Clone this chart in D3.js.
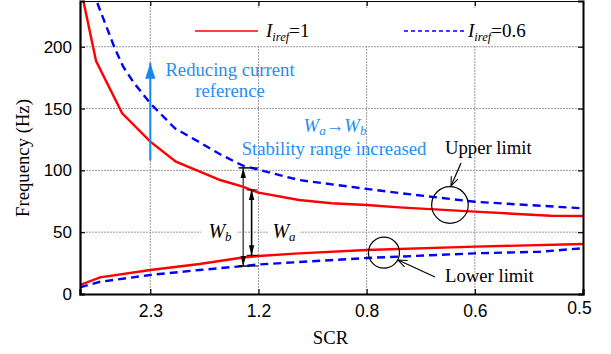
<!DOCTYPE html>
<html>
<head>
<meta charset="utf-8">
<script src="https://cdn.jsdelivr.net/npm/d3@7"></script>
<style>
  html, body { margin: 0; padding: 0; background: #fff; }
  svg { display: block; }
</style>
</head>
<body>
<svg id="chart" width="611" height="354"></svg>
<script>
// Short-circuit ratio axis (tick labels) and frequency axis
const xTicks = [2.3, 1.2, 0.8, 0.6, 0.5];
const xStart = 3.0;            // SCR at the left edge of the plot
const yTicks = [0, 50, 100, 150, 200];
const yMax = 237;

// Upper and lower stability limits (Hz) versus SCR
const redUpperScr = [3.0, 2.84, 2.58, 2.3, 2.04, 1.71, 1.59, 1.36, 1.27, 1.2, 1.05, 0.93, 0.8, 0.74, 0.6, 0.53, 0.5];
const redUpperHz  = [250, 188.4, 146.1, 123.2, 107, 96.2, 92.2, 86.8, 84.1, 82, 76, 73.4, 72, 70.1, 66.6, 63.3, 63.1];

const blueUpperScr = [3.0, 2.84, 2.66, 2.57, 2.46, 2.3, 2.05, 1.79, 1.59, 1.36, 1.2, 1.05, 0.8, 0.74, 0.6, 0.5];
const blueUpperHz  = [275, 238, 200, 183.8, 170.4, 154.2, 134, 122.3, 113, 103.8, 100.6, 92.2, 85, 81.7, 74.6, 69.3];

const redLowerScr = [3.0, 2.8, 2.3, 1.8, 1.36, 1.2, 1.05, 0.8, 0.6, 0.5];
const redLowerHz  = [7.3, 13.5, 19.4, 24.3, 29.5, 30.7, 32.9, 35.6, 38.3, 40.4];

const blueLowerScr = [3.0, 2.8, 2.3, 1.8, 1.36, 1.2, 0.8, 0.6, 0.54, 0.5];
const blueLowerHz  = [5.4, 9.9, 15.4, 19.4, 22.6, 23.9, 29.1, 32.9, 34.2, 37.0];

const seriesNames = ["1", "0.6"];

const svg = d3.select("#chart");
const plot = { left: 80, right: 583, top: 1, bottom: 294 };

// ticks are evenly spaced; the left edge sits 0.65 of a step before the first tick
const step = (plot.right - plot.left) / (xTicks.length - 1 + 0.65);
const xRange = [plot.left].concat(xTicks.map((d, i) => plot.left + (0.65 + i) * step));
const x = d3.scaleLinear().domain([xStart].concat(xTicks)).range(xRange);
const y = d3.scaleLinear().domain([0, yMax]).range([plot.bottom, plot.top]);

const serif = "'Liberation Serif', 'Times New Roman', serif";
const sans = "'Liberation Sans', Arial, sans-serif";
const blueText = "#1f8ef5";
const fs = 18.7;

// clip region for the curves
const defs = svg.append("defs");
defs.append("clipPath").attr("id", "clip")
  .append("rect").attr("x", plot.left).attr("y", plot.top)
  .attr("width", plot.right - plot.left).attr("height", plot.bottom - plot.top);

defs.append("marker").attr("id", "headBlack")
  .attr("viewBox", "0 0 10 10").attr("refX", 10).attr("refY", 5)
  .attr("markerWidth", 10).attr("markerHeight", 10).attr("markerUnits", "userSpaceOnUse")
  .attr("orient", "auto-start-reverse")
  .append("path").attr("d", "M0,2.3 L10,5 L0,7.7 Z").attr("fill", "#000");
defs.append("marker").attr("id", "headBlue")
  .attr("viewBox", "0 0 10 10").attr("refX", 10).attr("refY", 5)
  .attr("markerWidth", 16).attr("markerHeight", 16).attr("markerUnits", "userSpaceOnUse")
  .attr("orient", "auto")
  .append("path").attr("d", "M0,1.8 L10,5 L0,8.2 Z").attr("fill", "#1a86f0");
defs.append("marker").attr("id", "headOpen")
  .attr("viewBox", "0 0 10 10").attr("refX", 10).attr("refY", 5)
  .attr("markerWidth", 9).attr("markerHeight", 9).attr("markerUnits", "userSpaceOnUse")
  .attr("orient", "auto")
  .append("path").attr("d", "M0,1 L10,5 L0,9").attr("fill", "none").attr("stroke", "#000").attr("stroke-width", 1.2);

// grid
const grid = svg.append("g").attr("stroke", "#9a9a9a").attr("stroke-width", 1).attr("stroke-dasharray", "2,1");
grid.selectAll(".gx").data(xTicks.slice(0, -1)).join("line")
  .attr("x1", d => x(d)).attr("x2", d => x(d))
  .attr("y1", plot.top).attr("y2", plot.bottom);
grid.selectAll(".gy").data(yTicks.slice(1)).join("line")
  .attr("x1", plot.left).attr("x2", plot.right)
  .attr("y1", d => y(d)).attr("y2", d => y(d));

// legend backdrop
svg.append("rect").attr("x", 165).attr("y", 8).attr("width", 410).attr("height", 37).attr("fill", "#fff");

// label backdrops for W_b and W_a
svg.append("rect").attr("x", 201).attr("y", 222).attr("width", 36).attr("height", 20).attr("fill", "#fff");
svg.append("rect").attr("x", 268).attr("y", 222).attr("width", 32).attr("height", 20).attr("fill", "#fff");

// curves
const line = d3.line().x(d => x(d[0])).y(d => y(d[1]));
const curves = svg.append("g").attr("clip-path", "url(#clip)").attr("fill", "none").attr("stroke-width", 2.4);
function zip(a, b) { return a.map((v, i) => [v, b[i]]); }
curves.append("path").datum(zip(redUpperScr, redUpperHz)).attr("d", line).attr("stroke", "#ff0000");
curves.append("path").datum(zip(redLowerScr, redLowerHz)).attr("d", line).attr("stroke", "#ff0000");
curves.append("path").datum(zip(blueUpperScr, blueUpperHz)).attr("d", line).attr("stroke", "#0000ff").attr("stroke-dasharray", "8,5");
curves.append("path").datum(zip(blueLowerScr, blueLowerHz)).attr("d", line).attr("stroke", "#0000ff").attr("stroke-dasharray", "8,5");

// axes
const axisLeft = d3.axisLeft(y).tickValues(yTicks).tickSize(-5).tickPadding(8);
const axisBottom = d3.axisBottom(x).tickValues(xTicks).tickSize(-5).tickPadding(11).tickFormat(d3.format(".1f"));
const axisTop = d3.axisTop(x).tickValues(xTicks).tickSize(-5).tickFormat("");
const axisRight = d3.axisRight(y).tickValues(yTicks).tickSize(-5).tickFormat("");

function styleAxis(g, w, size) {
  g.select(".domain").attr("stroke", "#000").attr("stroke-width", w);
  g.selectAll(".tick line").attr("stroke", "#000").attr("stroke-width", 1.2);
  g.selectAll("text").attr("font-family", sans).attr("font-size", size).attr("fill", "#000");
}
svg.append("g").attr("transform", `translate(0,${plot.top})`).call(axisTop).call(g => styleAxis(g, 1, 17));
svg.append("g").attr("transform", `translate(${plot.right},0)`).call(axisRight).call(g => styleAxis(g, 2, 17));
svg.append("g").attr("transform", `translate(${plot.left},0)`).call(axisLeft).call(g => styleAxis(g, 2.2, 17));
const gx = svg.append("g").attr("transform", `translate(0,${plot.bottom})`).call(axisBottom).call(g => styleAxis(g, 2.2, 17.5));
gx.selectAll(".tick").filter(d => d === xTicks[xTicks.length - 1]).select("text").attr("dx", -4).attr("y", 8);

// axis titles
svg.append("text").attr("x", (plot.left + plot.right) / 2 - 1).attr("y", 344)
  .attr("text-anchor", "middle").attr("font-family", serif).attr("font-size", fs).text("SCR");
svg.append("text").attr("transform", "translate(29,158) rotate(-90)")
  .attr("text-anchor", "middle").attr("font-family", serif).attr("font-size", fs).text("Frequency (Hz)");

// legend
const legend = svg.append("g").attr("font-family", serif).attr("font-size", 19);
const legendItems = [
  { x0: 195, x1: 258, tx: 266, stroke: "#ff0000", dash: null, label: seriesNames[0] },
  { x0: 404, x1: 466, tx: 468, stroke: "#0000ff", dash: "4,3", label: seriesNames[1] }
];
legendItems.forEach(it => {
  legend.append("line").attr("x1", it.x0).attr("x2", it.x1).attr("y1", 31).attr("y2", 31)
    .attr("stroke", it.stroke).attr("stroke-width", 1.3).attr("stroke-dasharray", it.dash);
  const t = legend.append("text").attr("x", it.tx).attr("y", 37);
  t.append("tspan").attr("font-style", "italic").text("I");
  t.append("tspan").attr("font-style", "italic").attr("font-size", 12.5).attr("dy", 4).text("iref");
  t.append("tspan").attr("dy", -4).text("=" + it.label);
});

// "Reducing current reference" arrow
svg.append("line").attr("x1", x(2.3)).attr("x2", x(2.3)).attr("y1", y(108)).attr("y2", y(187))
  .attr("stroke", "#1a86f0").attr("stroke-width", 2).attr("marker-end", "url(#headBlue)");
const ann = svg.append("g").attr("font-family", serif).attr("font-size", fs);
ann.append("text").attr("x", 230).attr("y", 76).attr("text-anchor", "middle").attr("fill", blueText).text("Reducing current");
ann.append("text").attr("x", 230).attr("y", 97).attr("text-anchor", "middle").attr("fill", blueText).text("reference");

const wab = ann.append("text").attr("x", 335).attr("y", 132).attr("text-anchor", "middle").attr("fill", blueText);
wab.append("tspan").attr("font-style", "italic").text("W");
wab.append("tspan").attr("font-style", "italic").attr("font-size", 13).attr("dy", 3).text("a");
wab.append("tspan").attr("dy", -3).text("\u2192");
wab.append("tspan").attr("font-style", "italic").text("W");
wab.append("tspan").attr("font-style", "italic").attr("font-size", 13).attr("dy", 3).text("b");
ann.append("text").attr("x", 334).attr("y", 155).attr("text-anchor", "middle").attr("fill", blueText).text("Stability range increased");

// W_b and W_a spans
function span(scr, lo, hi, shaft) {
  const g = svg.append("g");
  const xp = x(scr);
  g.append("line").attr("x1", xp).attr("x2", xp).attr("y1", y(lo)).attr("y2", y(hi))
    .attr("stroke", shaft).attr("stroke-width", 1.6)
    .attr("marker-start", "url(#headBlack)").attr("marker-end", "url(#headBlack)");
  [lo, hi].forEach(v => g.append("line").attr("x1", xp - 5).attr("x2", xp + 6)
    .attr("y1", y(v)).attr("y2", y(v)).attr("stroke", "#000").attr("stroke-width", 1));
}
span(1.355, 22.6, 102, "#555");
span(1.27, 31.3, 84.2, "#000");
// bars at the blue curve ends extend further right
svg.append("line").attr("x1", x(1.355) - 4).attr("x2", x(1.2)).attr("y1", y(102)).attr("y2", y(102)).attr("stroke", "#000");
svg.append("line").attr("x1", x(1.355) - 4).attr("x2", x(1.2)).attr("y1", y(22.6)).attr("y2", y(22.6)).attr("stroke", "#000");

function wLabel(xc, sub) {
  const t = ann.append("text").attr("x", xc).attr("y", 238).attr("text-anchor", "middle").attr("fill", "#000");
  t.append("tspan").attr("font-style", "italic").attr("font-size", 20).text("W");
  t.append("tspan").attr("font-style", "italic").attr("font-size", 13).attr("dy", 3).text(sub);
}
wLabel(220, "b");
wLabel(284, "a");

// upper / lower limit markers
const circles = [
  { scr: 0.646, hz: 72, r: 18.3 },
  { scr: 0.768, hz: 33.4, r: 15.5 }
];
svg.selectAll(".ring").data(circles).join("circle")
  .attr("cx", d => x(d.scr)).attr("cy", d => y(d.hz)).attr("r", d => d.r)
  .attr("fill", "none").attr("stroke", "#000").attr("stroke-width", 1.2);
svg.append("line").attr("x1", 461).attr("y1", 163).attr("x2", 451).attr("y2", 186)
  .attr("stroke", "#000").attr("stroke-width", 1.2).attr("marker-end", "url(#headOpen)");
svg.append("line").attr("x1", 435).attr("y1", 277).attr("x2", 398).attr("y2", 260)
  .attr("stroke", "#000").attr("stroke-width", 1.2).attr("marker-end", "url(#headOpen)");
ann.append("text").attr("x", 445).attr("y", 154).attr("fill", "#000").text("Upper limit");
ann.append("text").attr("x", 445).attr("y", 282).attr("fill", "#000").text("Lower limit");
</script>
</body>
</html>
